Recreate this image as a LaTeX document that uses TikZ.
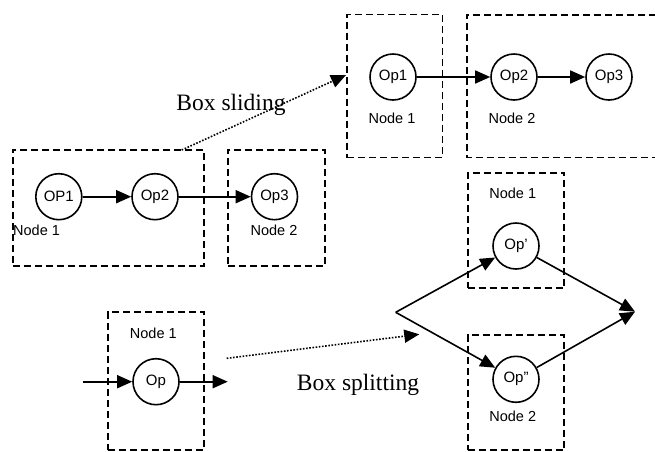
\documentclass[tikz,border=0pt]{standalone}
\usepackage{fontspec}
\setmainfont{Liberation Serif}
\setsansfont{Liberation Sans}
\usetikzlibrary{arrows.meta}
\tikzset{
  dbox/.style={draw, line width=1.8pt, dash pattern=on 7pt off 4pt, inner sep=0pt},
  op/.style={draw, circle, line width=1.6pt, minimum size=46pt, inner sep=0pt, font=\sffamily\fontsize{15}{16}\selectfont},
  lbl/.style={font=\sffamily\fontsize{14.5}{16}\selectfont, inner sep=0pt},
  big/.style={font=\rmfamily\fontsize{23.5}{26}\selectfont, inner sep=0pt},
  arr/.style={line width=1.6pt, -{Triangle[length=15pt,width=13pt]}},
  dot/.style={line width=1.6pt, dash pattern=on 1.6pt off 1.6pt, -{Triangle[length=15pt,width=13pt]}},
}
\begin{document}
\begin{tikzpicture}[x=1pt,y=-1pt]
\useasboundingbox (0,0) rectangle (655,451);
% boxes
\node[dbox, minimum width=95.5pt, minimum height=143pt] (tb1) at (394.8,86) {};
\draw[dbox] (656,14.6) -| (466.7,157.5) -- (656,157.5);
\node[dbox, minimum width=191.3pt, minimum height=116pt] (lb1) at (108.35,208) {};
\node[dbox, minimum width=97.3pt, minimum height=116pt] (lb2) at (276.35,208) {};
\node[dbox, minimum width=96.3pt, minimum height=137.7pt] (bb1) at (155.85,381.15) {};
\node[dbox, minimum width=96.6pt, minimum height=115.6pt] (rb1) at (516,230.5) {};
\node[dbox, minimum width=96.6pt, minimum height=115pt] (rb2) at (516,392.5) {};
% circles
\node[op] (t1) at (393,77) {Op1};
\node[op] (t2) at (514,77) {Op2};
\node[op] (t3) at (609,77) {Op3};
\node[op] (l1) at (58.8,196.7) {OP1};
\node[op] (l2) at (155,196.7) {Op2};
\node[op] (l3) at (274.5,196.7) {Op3};
\node[op] (r1) at (516,246) {Op'};
\node[op] (r2) at (516,379.3) {Op''};
\node[op] (b1) at (156,381.7) {Op};
% labels
\node[lbl] (tl1) at (392,118) {Node 1};
\node[lbl] (tl2) at (512,118) {Node 2};
\node[lbl, anchor=west] (ll1) at (13,230) {Node 1};
\node[lbl] (ll2) at (274,230) {Node 2};
\node[lbl] (rl1) at (512.7,193.3) {Node 1};
\node[lbl] (rl2) at (512.7,416) {Node 2};
\node[lbl] (bl1) at (153.3,333.3) {Node 1};
\node[big, anchor=base] (slide) at (231,110) {Box sliding};
\node[big, anchor=base] (split) at (358,390) {Box splitting};
% coordinates
\coordinate (ds) at (181.7,150);
\coordinate (de) at (346,75);
\coordinate (ss) at (226.7,358.3);
\coordinate (se) at (419.3,334.3);
\coordinate (in) at (82.7,381.7);
\coordinate (out) at (227.7,381.7);
\coordinate (sp) at (395.7,312.3);
\coordinate (mg) at (635,311.7);
% connectors
\draw[arr] (t1) -- (t2);
\draw[arr] (t2) -- (t3);
\draw[arr] (l1) -- (l2);
\draw[arr] (l2) -- (l3);
\draw[arr] (in) -- (b1);
\draw[arr] (b1) -- (out);
\draw[arr] (sp) -- (r1);
\draw[arr] (sp) -- (r2);
\draw[arr] (r1) -- (mg);
\draw[arr] (r2) -- (mg);
\draw[dot] (ds) -- (de);
\draw[dot] (ss) -- (se);
\end{tikzpicture}
\end{document}
